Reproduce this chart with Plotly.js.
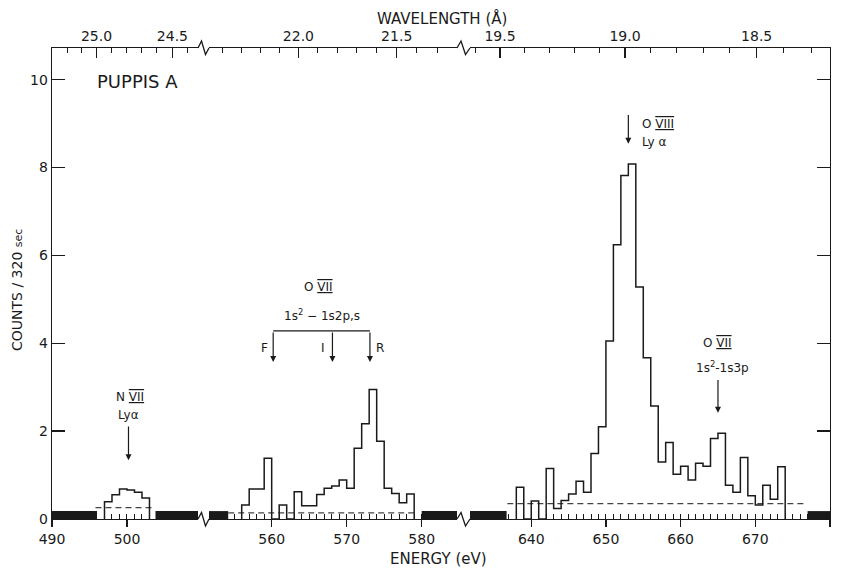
<!DOCTYPE html>
<html><head><meta charset="utf-8">
<script src="https://cdn.plot.ly/plotly-3.0.1.min.js"></script>
<style>html,body{margin:0;padding:0;background:#fff}#chart{width:843px;height:569px}</style>
</head><body><div id="chart"></div>
<script>
// ---- data (1 eV bins: left edge, counts / 320 s) ----
const nviiBins   = [497,498,499,500,501,502];
const nviiCounts = [0.39,0.55,0.68,0.66,0.61,0.48];

const oviiBins   = [556,557,558,559,560,561,562,563,564,565,566,567,568,569,570,571,572,573,574,575,576,577,578];
const oviiCounts = [0.32,0.68,0.68,1.38,0,0.32,0,0.62,0.30,0.30,0.56,0.70,0.75,0.89,0.70,1.61,2.17,2.95,1.77,0.70,0.58,0.37,0.57];

const oviiiBins   = [638,639,640,641,642,643,644,645,646,647,648,649,650,651,652,653,654,655,656,657,658,659,660,661,662,663,664,665,666,667,668,669,670,671,672,673];
const oviiiCounts = [0.72,0,0.41,0,1.15,0.24,0.42,0.57,0.86,0.61,1.49,2.10,4.05,6.24,7.82,8.08,5.28,3.67,2.57,1.30,1.74,1.02,1.20,0.89,1.27,1.20,1.83,1.95,0.77,0.61,1.40,0.53,0.32,0.77,0.45,1.19];
const binWidth = 1;

// unscanned energy intervals (solid black blocks)
const gapStart  = [490, 503.8, 551.64, 580.0, 631.8, 677.0];
const gapEnd    = [496.0, 509.47, 554.2, 584.71, 636.7, 680];
const gapHeight = [0.18, 0.18, 0.18, 0.18, 0.18, 0.18];
const gapAxis   = ['x','x','x2','x2','x3','x3'];

// background levels (dashed)
const bgStart = [495.8, 554.2, 636.8];
const bgEnd   = [503.8, 579.5, 676.7];
const bgLevel = [0.26, 0.14, 0.35];
const bgAxis  = ['x','x2','x3'];

// energy segment ranges (broken axis)
const segRange = [[490, 509.47],[551.64, 584.71],[631.8, 680]];
// wavelength ticks (Angstrom)
const lamMajor = [[25.0,24.5],[22.0,21.5],[19.5,19.0,18.5]];
const lamMajorText = [['25.0','24.5'],['22.0','21.5'],['19.5','19.0','18.5']];
const lamMinor = [[25.2,25.1,24.9,24.8,24.7,24.6,24.4],
                  [22.4,22.3,22.2,22.1,21.9,21.8,21.7,21.6,21.4,21.3],
                  [19.6,19.4,19.3,19.2,19.1,18.9,18.8,18.7,18.6,18.4,18.3]];
const HC = 12398.4; // eV*Angstrom

// ---- build ----
const INK = '#1a1a1a';
const FONT = 'DejaVu Sans, Arial, sans-serif';
function stepXY(bins, counts){
  const x=[bins[0]], y=[0];
  for(let i=0;i<bins.length;i++){ x.push(bins[i]); y.push(counts[i]); }
  x.push(bins[bins.length-1]+binWidth); y.push(0);
  return {x, y};
}
const traces = [];
// gaps
for(let i=0;i<gapStart.length;i++){
  traces.push({type:'bar', x:[(gapStart[i]+gapEnd[i])/2], y:[gapHeight[i]], width:[gapEnd[i]-gapStart[i]],
    base:0, xaxis:gapAxis[i], yaxis:'y', marker:{color:INK, line:{width:0}}, hoverinfo:'skip', showlegend:false});
}
// backgrounds
for(let i=0;i<bgStart.length;i++){
  traces.push({type:'scatter', mode:'lines', x:[bgStart[i], bgEnd[i]], y:[bgLevel[i], bgLevel[i]],
    xaxis:bgAxis[i], yaxis:'y', line:{color:'#444', width:1.3, dash:'6px,4px'}, hoverinfo:'skip', showlegend:false});
}
// histograms
[[nviiBins,nviiCounts,'x'],[oviiBins,oviiCounts,'x2'],[oviiiBins,oviiiCounts,'x3']].forEach(s=>{
  const d = stepXY(s[0], s[1]);
  traces.push({type:'scatter', mode:'lines', x:d.x, y:d.y, xaxis:s[2], yaxis:'y',
    line:{shape:'hv', color:INK, width:1.5}, hoverinfo:'skip', showlegend:false});
});
// anchor for right mirror axis
traces.push({type:'scatter', mode:'lines', x:[segRange[2][1]], y:[0], xaxis:'x3', yaxis:'y2',
  line:{width:0}, opacity:0, hoverinfo:'skip', showlegend:false});

const W = 843, H = 569, L = 52, R = 13, T = 48, B = 50;
const PW = W-L-R, PH = H-T-B;
const px2x = p => (p-L)/PW;
const py2y = p => (H-B-p)/PH;
const domains = [[0, px2x(198)], [px2x(209), px2x(457)], [px2x(470), 1]];

const tickFont = {family:FONT, size:14, color:INK};
const layout = {
  width:W, height:H, margin:{l:L, r:R, t:T, b:B},
  paper_bgcolor:'#fff', plot_bgcolor:'#fff', showlegend:false, hovermode:false,
  barmode:'overlay', font:{family:FONT, color:INK},
  yaxis:{range:[0,10.72], anchor:'x', tickmode:'linear', tick0:0, dtick:2, ticks:'inside', ticklen:13,
    tickwidth:1.3, tickcolor:INK, showline:true, linecolor:INK, linewidth:1.3, showgrid:false, zeroline:false,
    tickfont:tickFont},
  yaxis2:{range:[0,10.72], overlaying:'y', side:'right', anchor:'x3', tickmode:'linear', tick0:0, dtick:2,
    ticks:'inside', ticklen:13, tickwidth:1.3, tickcolor:INK, showline:true, linecolor:INK, linewidth:1.3,
    showgrid:false, zeroline:false, showticklabels:false},
  shapes:[], annotations:[]
};
const bottomIds = ['xaxis','xaxis2','xaxis3'];
const topIds = ['xaxis4','xaxis5','xaxis6'];
const baseRefs = ['x','x2','x3'];
for(let i=0;i<3;i++){
  layout[bottomIds[i]] = {domain:domains[i], range:segRange[i], anchor:'y', tickmode:'linear', tick0:0, dtick:10,
    ticks:'outside', ticklen:7, tickwidth:1.3, tickcolor:INK, showline:true, linecolor:INK, linewidth:1.3,
    showgrid:false, zeroline:false, tickfont:tickFont,
    minor:{tickmode:'linear', tick0:0, dtick:1, ticks:'inside', ticklen:5, tickwidth:1, tickcolor:INK, showgrid:false}};
  layout[topIds[i]] = {overlaying:baseRefs[i], side:'top', anchor:'y', range:segRange[i], tickmode:'array',
    tickvals:lamMajor[i].map(l=>HC/l), ticktext:lamMajorText[i], ticks:'inside', ticklen:10, tickwidth:1.3,
    tickcolor:INK, showline:true, linecolor:INK, linewidth:1.3, showgrid:false, zeroline:false, tickfont:tickFont,
    minor:{tickmode:'array', tickvals:lamMinor[i].map(l=>HC/l), ticks:'inside', ticklen:5, tickwidth:1, tickcolor:INK, showgrid:false}};
  // invisible trace so the top axis exists
  traces.push({type:'scatter', mode:'lines', x:[segRange[i][0]], y:[0], xaxis:'x'+(i+4), yaxis:'y',
    line:{width:0}, opacity:0, hoverinfo:'skip', showlegend:false});
}

// axis-break zigzags
function zig(pts){
  return 'M ' + pts.map(p=>px2x(p[0]).toFixed(5)+','+py2y(p[1]).toFixed(5)).join(' L ');
}
[[[198,519],[201.5,512.5],[205.5,526],[209,519]],
 [[457,519],[461,512.5],[465.5,526],[470,519]],
 [[198,48],[201.5,41],[205.5,54.5],[209,48]],
 [[457,48],[461,41],[465.5,54.5],[470,48]]].forEach(p=>{
  layout.shapes.push({type:'path', xref:'paper', yref:'paper', path:zig(p), line:{color:INK, width:1.3}});
});

// O VII bracket
layout.shapes.push({type:'line', xref:'x2', yref:'y', x0:560.2, x1:573.1, y0:4.28, y1:4.28, line:{color:INK, width:1.3}});

const U = s => '<span style="text-decoration:underline overline">'+s+'</span>';
function txt(x, y, xref, text, size, anchor){
  layout.annotations.push({x, y, xref, yref:'y', text, showarrow:false, xanchor:anchor||'center', yanchor:'middle',
    font:{family:FONT, size:size||12, color:INK}});
}
function arrow(x, yTip, yTail, xref){
  layout.annotations.push({x, y:yTip, ax:x, ay:yTail, xref, yref:'y', axref:xref, ayref:'y', text:'',
    showarrow:true, arrowhead:2, arrowsize:1, arrowwidth:1.2, arrowcolor:INK});
}
// N VII
txt(500.4, 2.77, 'x', 'N '+U('VII'), 12);
txt(500.2, 2.36, 'x', 'Ly\u03b1', 12);
arrow(500.2, 1.34, 2.14, 'x');
// O VII triplet
txt(566.3, 5.27, 'x2', 'O '+U('VII'), 12);
txt(566.7, 4.64, 'x2', '1s<sup>2</sup> \u2212 1s2p,s', 12);
txt(559.1, 3.89, 'x2', 'F', 12);
txt(566.9, 3.89, 'x2', 'I', 12);
txt(574.5, 3.89, 'x2', 'R', 12);
arrow(560.2, 3.575, 4.28, 'x2');
arrow(568.1, 3.575, 4.28, 'x2');
arrow(573.1, 3.575, 4.28, 'x2');
// O VIII Ly alpha
txt(654.6, 9.0, 'x3', 'O '+U('VIII'), 12, 'left');
txt(654.6, 8.58, 'x3', 'Ly \u03b1', 12, 'left');
arrow(653.0, 8.54, 9.23, 'x3');
// O VII 1s2-1s3p
txt(665.0, 4.0, 'x3', 'O '+U('VII'), 12);
txt(665.6, 3.45, 'x3', '1s<sup>2</sup>-1s3p', 12);
arrow(665.0, 2.42, 3.2, 'x3');
// source name
txt(495.8, 9.95, 'x', 'PUPPIS A', 18, 'left');
// axis titles
layout.annotations.push({xref:'paper', yref:'paper', x:px2x(442), y:py2y(18), text:'WAVELENGTH (\u00c5)', showarrow:false,
  xanchor:'center', yanchor:'middle', font:{family:FONT, size:15, color:INK}});
layout.annotations.push({xref:'paper', yref:'paper', x:px2x(438), y:py2y(559), text:'ENERGY (eV)', showarrow:false,
  xanchor:'center', yanchor:'middle', font:{family:FONT, size:15, color:INK}});
layout.annotations.push({xref:'paper', yref:'paper', x:px2x(17), y:py2y(290), text:'COUNTS / 320 <span style="font-size:11px">sec</span>',
  showarrow:false, textangle:-90, xanchor:'center', yanchor:'middle', font:{family:FONT, size:14, color:INK}});

Plotly.newPlot('chart', traces, layout, {displayModeBar:false, staticPlot:true});
</script></body></html>
